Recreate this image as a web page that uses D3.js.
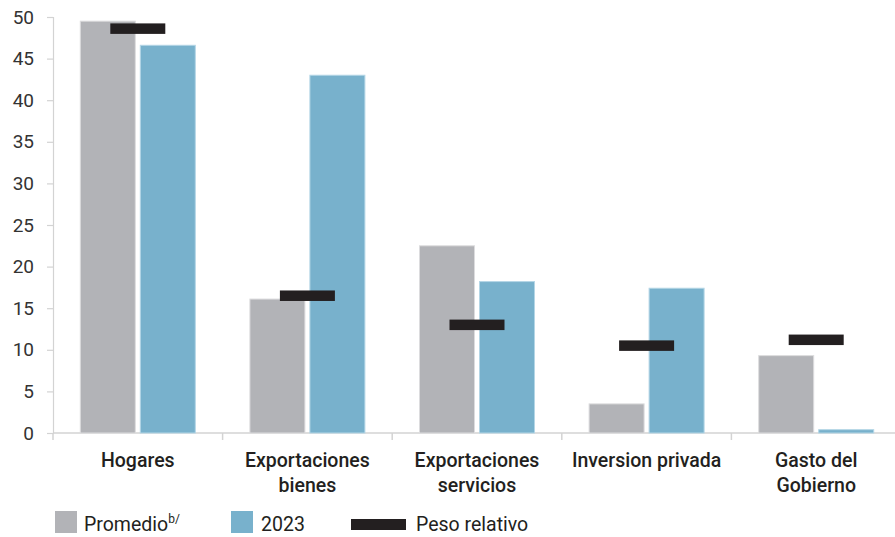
<!DOCTYPE html>
<html>
<head>
<meta charset="utf-8">
<script src="https://cdn.jsdelivr.net/npm/d3@7"></script>
<style>
  html, body { margin: 0; padding: 0; background: #fff; }
  svg { display: block; font-family: Roboto, "Noto Sans", sans-serif; }
</style>
</head>
<body>
<svg id="chart" width="895" height="537"></svg>
<script>
// Contribution by demand component
const categories = [["Hogares"], ["Exportaciones", "bienes"], ["Exportaciones", "servicios"], ["Inversion privada"], ["Gasto del", "Gobierno"]];
const promedio = [49.5, 16.1, 22.5, 3.5, 9.3];
const anio2023 = [46.6, 43.0, 18.2, 17.4, 0.4];
const pesoRelativo = [48.6, 16.5, 13.0, 10.5, 11.2];
const yTicks = [0, 5, 10, 15, 20, 25, 30, 35, 40, 45, 50];

const colors = { promedio: "#b2b3b7", y2023: "#78b1cc", peso: "#231f20", axis: "#d3d3d3", text: "#231f20" };

const svg = d3.select("#chart");
const margin = { left: 53, top: 17, right: 0, bottom: 104 };
const plotW = 5 * 169.6;
const y = d3.scaleLinear().domain([0, 50]).range([433, 17]);
const x = d3.scaleBand().domain(d3.range(categories.length)).range([margin.left, margin.left + plotW]);
const barW = 55, gap = 5;

// Y axis
const yAxis = svg.append("g").attr("transform", `translate(${margin.left},0)`)
  .call(d3.axisLeft(y).tickValues(yTicks).tickSize(6).tickPadding(13));
yAxis.select(".domain").attr("stroke", colors.axis).attr("stroke-width", 1.2);
yAxis.selectAll(".tick line").attr("stroke", colors.axis).attr("stroke-width", 1.2);
yAxis.selectAll(".tick text").attr("font-size", 19).attr("fill", "#333").attr("font-family", "Roboto, sans-serif");

// X axis baseline with boundary ticks
svg.append("line").attr("x1", margin.left).attr("x2", 895).attr("y1", y(0)).attr("y2", y(0))
  .attr("stroke", colors.axis).attr("stroke-width", 1.5);
svg.selectAll(".xtick").data(d3.range(categories.length + 1)).join("line")
  .attr("class", "xtick")
  .attr("x1", i => margin.left + i * x.bandwidth()).attr("x2", i => margin.left + i * x.bandwidth())
  .attr("y1", y(0)).attr("y2", y(0) + 7)
  .attr("stroke", colors.axis).attr("stroke-width", 1.5);

// Bars
const cx = i => x(i) + x.bandwidth() / 2;
svg.selectAll(".bar-prom").data(promedio).join("rect")
  .attr("x", (d, i) => cx(i) - gap / 2 - barW).attr("width", barW)
  .attr("y", d => y(d)).attr("height", d => y(0) - y(d))
  .attr("fill", colors.promedio).attr("stroke", "#dcdcde").attr("stroke-width", 1);
svg.selectAll(".bar-2023").data(anio2023).join("rect")
  .attr("x", (d, i) => cx(i) + gap / 2).attr("width", barW)
  .attr("y", d => y(d)).attr("height", d => y(0) - y(d))
  .attr("fill", colors.y2023).attr("stroke", "#b4d6e6").attr("stroke-width", 1);

// Relative weight markers
const markH = 10.5;
svg.selectAll(".peso").data(pesoRelativo).join("rect")
  .attr("x", (d, i) => cx(i) - barW / 2).attr("width", barW)
  .attr("y", d => y(d) - markH / 2).attr("height", markH)
  .attr("fill", colors.peso);

// Category labels
const lbl = svg.append("g").attr("font-size", 19.5).attr("font-weight", 500).attr("fill", colors.text).attr("text-anchor", "middle");
categories.forEach((lines, i) => {
  lines.forEach((t, j) => {
    lbl.append("text").attr("x", cx(i)).attr("y", 467 + j * 24.5).text(t);
  });
});

// Legend
const leg = svg.append("g").attr("font-size", 19.5).attr("fill", colors.text);
leg.append("rect").attr("x", 55).attr("y", 511).attr("width", 22).attr("height", 22).attr("fill", colors.promedio);
const t1 = leg.append("text").attr("x", 84).attr("y", 531);
t1.append("tspan").text("Promedio");
t1.append("tspan").attr("font-size", 12).attr("dy", -8).text("b/");
leg.append("rect").attr("x", 231).attr("y", 511).attr("width", 22).attr("height", 22).attr("fill", colors.y2023);
leg.append("text").attr("x", 261).attr("y", 531).text("2023");
leg.append("rect").attr("x", 351).attr("y", 519).attr("width", 55).attr("height", 11).attr("fill", colors.peso);
leg.append("text").attr("x", 416).attr("y", 531).text("Peso relativo");
</script>
</body>
</html>
